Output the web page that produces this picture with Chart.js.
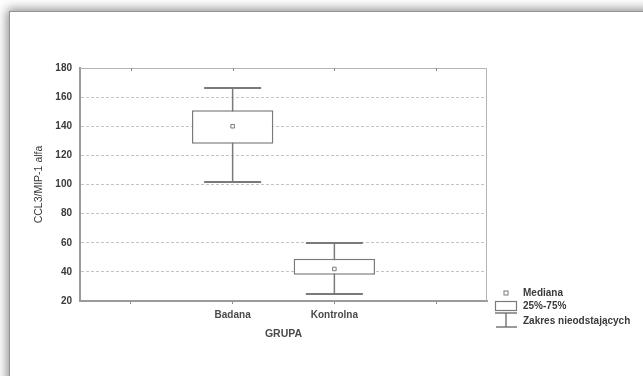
<!DOCTYPE html>
<html>
<head>
<meta charset="utf-8">
<script src="https://cdn.jsdelivr.net/npm/chart.js@4"></script>
<style>
  html, body { margin: 0; padding: 0; }
  body { width: 643px; height: 376px; position: relative; overflow: hidden; background: #fff; }
  .card {
    position: absolute; left: 9px; top: 11px; right: -20px; bottom: -20px;
    background: #fff;
    border-left: 1px solid #949494; border-top: 1px solid #949494;
    box-shadow: -2px -2px 10px rgba(0, 0, 0, 0.45);
  }
  #wrap { position: absolute; left: 0; top: 0; width: 643px; height: 376px; }
</style>
</head>
<body>
<div class="card"></div>
<div id="wrap"><canvas id="chart" width="643" height="376"></canvas></div>
<script>
// Dane
const groups = ['Badana', 'Kontrolna'];
const minVals = [102, 25];
const q1Vals = [128, 38];
const medianVals = [140, 42];
const q3Vals = [151, 49];
const maxVals = [166, 60];
const yTicks = [20, 40, 60, 80, 100, 120, 140, 160, 180];

// puste sloty po bokach, jak w oryginale
const labels = ['', ...groups, ''];
const pad = arr => [null, ...arr, null];

const gray = '#7a7a7a';
const textColor = '#3a3a3a';
const font = 'Liberation Sans, Arial, sans-serif';

// Wąsy (zakres nieodstających) rysowane pod pudełkami
const whiskers = {
    id: 'whiskers',
    beforeDatasetsDraw(chart) {
        const { ctx, scales: { x, y } } = chart;
        const half = x.width / labels.length * 0.28;
        ctx.save();
        ctx.strokeStyle = gray;
        groups.forEach((g, i) => {
            const px = x.getPixelForValue(i + 1);
            ctx.lineWidth = 1.5;
            ctx.beginPath();
            ctx.moveTo(px, y.getPixelForValue(minVals[i]));
            ctx.lineTo(px, y.getPixelForValue(maxVals[i]));
            ctx.stroke();
            ctx.lineWidth = 2;
            [minVals[i], maxVals[i]].forEach(v => {
                const py = Math.round(y.getPixelForValue(v));
                ctx.beginPath();
                ctx.moveTo(px - half, py);
                ctx.lineTo(px + half, py);
                ctx.stroke();
            });
        });
        ctx.restore();
    }
};

// Ramka wykresu + legenda po prawej
const frameAndLegend = {
    id: 'frameAndLegend',
    afterDraw(chart) {
        const { ctx, chartArea: a, scales: { x } } = chart;
        ctx.save();
        ctx.strokeStyle = '#b5b5b5';
        ctx.lineWidth = 1;
        ctx.beginPath();
        ctx.moveTo(a.left, a.top + 0.5);
        ctx.lineTo(a.right - 0.5, a.top + 0.5);
        ctx.lineTo(a.right - 0.5, a.bottom);
        ctx.stroke();
        // małe znaczniki u góry
        ctx.strokeStyle = '#888';
        for (let i = 0; i < labels.length; i++) {
            const px = Math.round(x.getPixelForValue(i)) + 0.5;
            ctx.beginPath();
            ctx.moveTo(px, a.top);
            ctx.lineTo(px, a.top + 3);
            ctx.stroke();
        }

        // legenda
        const lx = 506;
        ctx.strokeStyle = gray;
        ctx.fillStyle = '#fff';
        ctx.lineWidth = 1;
        ctx.fillRect(lx - 2, 291, 4, 4);
        ctx.strokeRect(lx - 2, 291, 4, 4);
        ctx.lineWidth = 1.2;
        ctx.strokeRect(495.5, 301.5, 21, 9);
        ctx.lineWidth = 1.5;
        ctx.beginPath();
        ctx.moveTo(495, 313); ctx.lineTo(517, 313);
        ctx.moveTo(lx, 313); ctx.lineTo(lx, 327);
        ctx.moveTo(496, 327); ctx.lineTo(517, 327);
        ctx.stroke();

        ctx.fillStyle = textColor;
        ctx.font = 'bold 10px ' + font;
        ctx.textBaseline = 'middle';
        ctx.fillText('Mediana', 523, 293);
        ctx.fillText('25%-75%', 523, 306);
        ctx.fillText('Zakres nieodstających', 523, 321);
        ctx.restore();
    }
};

new Chart(document.getElementById('chart'), {
    data: {
        labels: labels,
        datasets: [{
            type: 'bar',
            order: 2,
            data: pad(groups.map((g, i) => [q1Vals[i], q3Vals[i]])),
            backgroundColor: '#fff',
            borderColor: gray,
            borderWidth: 1.5,
            borderSkipped: false,
            barPercentage: 0.8,
            categoryPercentage: 1
        }, {
            type: 'line',
            order: 1,
            data: pad(medianVals),
            showLine: false,
            pointStyle: 'rect',
            pointRadius: 2.5,
            pointBorderWidth: 1,
            pointBackgroundColor: '#fff',
            pointBorderColor: gray
        }]
    },
    options: {
        responsive: false,
        animation: false,
        layout: { padding: { top: 68, right: 156, left: 0, bottom: 0 } },
        plugins: { legend: { display: false }, tooltip: { enabled: false } },
        scales: {
            x: {
                type: 'category',
                offset: true,
                afterFit: s => { s.height = 75; },
                grid: { display: true, offset: false, drawOnChartArea: false, tickLength: 3, color: '#888' },
                border: { color: '#9a9a9a', width: 2 },
                ticks: { padding: 5, color: '#4a4a4a', font: { family: font, size: 10, weight: 'bold' } },
                title: {
                    display: true, text: 'GRUPA', color: '#4a4a4a',
                    font: { family: font, size: 10.5, weight: 'bold' },
                    padding: { top: 0, bottom: 35.5 }
                }
            },
            y: {
                min: 20, max: 180,
                afterFit: s => { s.width = 80; },
                afterBuildTicks: s => { s.ticks = yTicks.map(v => ({ value: v })); },
                grid: { color: '#c4c4c4', lineWidth: 1, drawTicks: false },
                border: { color: '#9a9a9a', width: 2, dash: [3, 2] },
                ticks: { padding: 8, color: textColor, font: { family: font, size: 10, weight: 'bold' } },
                title: {
                    display: true, text: 'CCL3/MIP-1 alfa', color: '#3a3a3a',
                    font: { family: font, size: 10.5 },
                    padding: { top: 33, bottom: 0 }
                }
            }
        }
    },
    plugins: [whiskers, frameAndLegend]
});
</script>
</body>
</html>
